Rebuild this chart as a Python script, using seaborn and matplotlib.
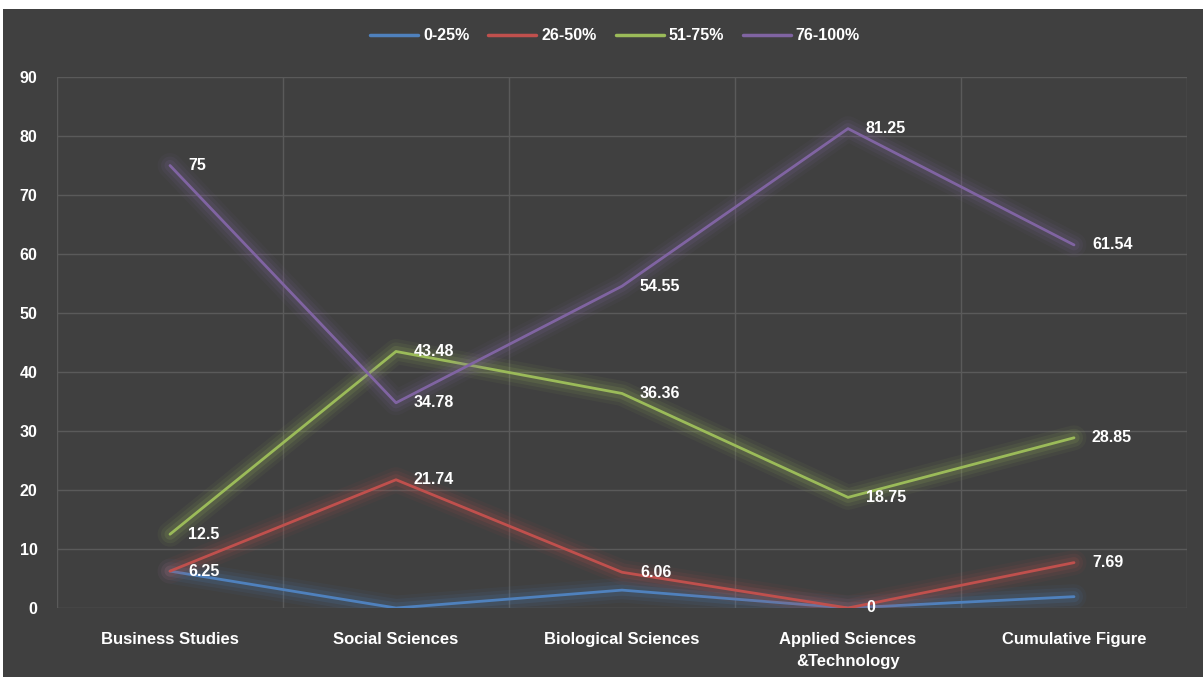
import matplotlib
matplotlib.use("Agg")
import matplotlib.pyplot as plt
import matplotlib.patheffects as pe
from matplotlib import font_manager
from matplotlib.patches import Rectangle
from matplotlib.lines import Line2D
import seaborn as sns
import pandas as pd

categories = ["Business Studies", "Social Sciences", "Biological Sciences",
              "Applied Sciences\n&Technology", "Cumulative Figure"]
series_names = ["0-25%", "26-50%", "51-75%", "76-100%"]
s_0_25 = [6.25, 0, 3.03, 0, 1.92]
s_26_50 = [6.25, 21.74, 6.06, 0, 7.69]
s_51_75 = [12.5, 43.48, 36.36, 18.75, 28.85]
s_76_100 = [75, 34.78, 54.55, 81.25, 61.54]
labeled = {"0-25%": False, "26-50%": True, "51-75%": True, "76-100%": True}
colors = ["#4F81BD", "#C0504D", "#9BBB59", "#8064A2"]

rows = []
for name, vals in zip(series_names, [s_0_25, s_26_50, s_51_75, s_76_100]):
    for i, v in enumerate(vals):
        rows.append({"pos": i, "cat": categories[i], "series": name, "value": v})
df = pd.DataFrame(rows)

sns.set_theme(style="dark")
avail = {f.name for f in font_manager.fontManager.ttflist}
fam = "Liberation Sans Narrow" if "Liberation Sans Narrow" in avail else "Liberation Sans"
plt.rcParams["font.family"] = [fam, "DejaVu Sans"]
plt.rcParams["font.weight"] = "bold"

BG = "#404040"
fig = plt.figure(figsize=(12.03, 6.77), dpi=100, facecolor="white")
fig.patches.append(Rectangle((3 / 1203, 0), 1, 1 - 9 / 677, transform=fig.transFigure,
                             facecolor=BG, edgecolor="none", zorder=-10))
ax = fig.add_axes([57 / 1203, 69 / 677, (1187 - 57) / 1203, (608 - 77) / 677])
ax.set_facecolor(BG)

sns.lineplot(data=df, x="pos", y="value", hue="series", palette=colors,
             hue_order=series_names, linewidth=2, ax=ax, legend=False, sort=False)

for line, c in zip(ax.lines, colors):
    line.set_path_effects([
        pe.Stroke(linewidth=18, foreground=c, alpha=0.06),
        pe.Stroke(linewidth=13, foreground=c, alpha=0.09),
        pe.Stroke(linewidth=8, foreground=c, alpha=0.14),
        pe.Normal(),
    ])

for name, vals in zip(series_names, [s_0_25, s_26_50, s_51_75, s_76_100]):
    if not labeled[name]:
        continue
    for i, v in enumerate(vals):
        ax.annotate(f"{v:g}", (i, v), xytext=(18, 0), textcoords="offset pixels",
                    ha="left", va="center", color="white", fontsize=11.5,
                    fontweight="bold")

ax.set_xlim(-0.5, 4.5)
ax.set_ylim(0, 90)
ax.set_yticks(range(0, 91, 10))
ax.set_xticks(range(5))
ax.set_xticklabels(categories, color="white", fontsize=12, fontweight="bold",
                   linespacing=1.6)
ax.tick_params(axis="x", pad=17, length=0)
ax.tick_params(axis="y", pad=14, length=0, labelcolor="white", labelsize=11.5)
for lab in ax.get_yticklabels():
    lab.set_fontweight("bold")
ax.set_xticks([-0.5, 0.5, 1.5, 2.5, 3.5, 4.5], minor=True)
ax.grid(True, which="major", axis="y", color="#5A5A5A", linewidth=1)
ax.grid(True, which="minor", axis="x", color="#5A5A5A", linewidth=1)
ax.grid(False, which="major", axis="x")
ax.tick_params(which="minor", length=0)
for s in ax.spines.values():
    s.set_visible(False)
ax.set_xlabel("")
ax.set_ylabel("")

handles = [Line2D([], [], color=c, linewidth=2.5) for c in colors]
leg = fig.legend(handles, series_names, loc="center", bbox_to_anchor=(615 / 1203, 1 - 36 / 677),
                 ncol=4, frameon=False, handlelength=3, columnspacing=1.2, handletextpad=0.3,
                 fontsize=11.5)
for t in leg.get_texts():
    t.set_color("white")
    t.set_fontweight("bold")

fig.savefig("out.png", dpi=100, facecolor=fig.get_facecolor())
